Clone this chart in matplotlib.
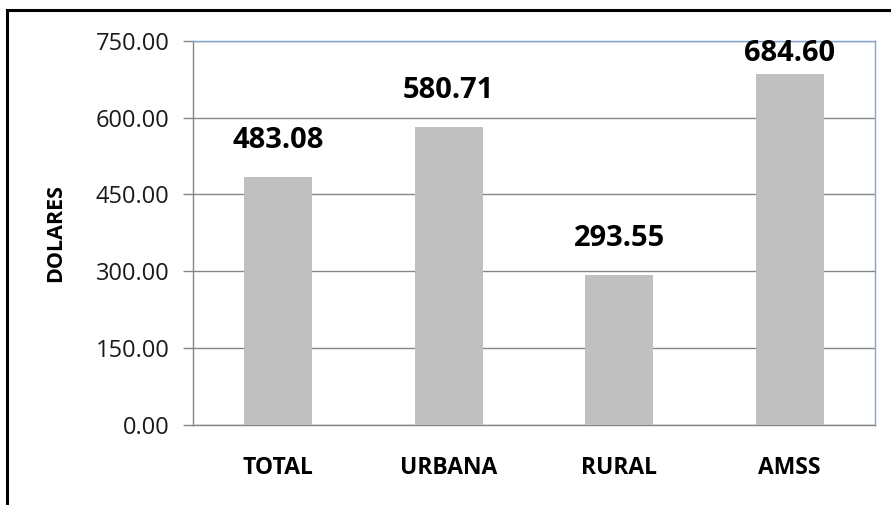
import matplotlib
matplotlib.use("Agg")
import matplotlib.pyplot as plt
from matplotlib.patches import Rectangle

categories = ["TOTAL", "URBANA", "RURAL", "AMSS"]
values = [483.08, 580.71, 293.55, 684.60]
yticks = [0, 150, 300, 450, 600, 750]
ylabel = "DOLARES"

plt.rcParams['font.family'] = ['Open Sans', 'DejaVu Sans']

W, H = 891, 505
fig = plt.figure(figsize=(W / 100, H / 100), dpi=100)
ax = fig.add_axes([193 / W, 1 - 425 / H, (875 - 193) / W, (425 - 40.7) / H])

x = list(range(len(categories)))
ax.bar(x, values, width=0.40, color="#C0C0C0", zorder=3)
ax.set_xlim(-0.5, len(categories) - 0.5)
ax.set_ylim(0, 750)
ax.set_yticks(yticks)
ax.set_yticklabels([f"{v:.2f}" for v in yticks], fontsize=17, color="#1a1a1a")
ax.set_xticks(x)
ax.set_xticklabels(categories, fontsize=16.5, fontweight="bold")
ax.tick_params(axis="x", length=0, pad=22)
ax.tick_params(axis="y", length=7, width=1, color="#868686", pad=10, direction="out")
ax.yaxis.grid(True, color="#868686", linewidth=1.0, zorder=0)
ax.set_axisbelow(True)

for s in ("left", "bottom"):
    ax.spines[s].set_color("#868686")
    ax.spines[s].set_linewidth(1.0)
for s in ("top", "right"):
    ax.spines[s].set_color("#7FA3D6")
    ax.spines[s].set_linewidth(1.0)

ax.set_ylabel(ylabel, fontsize=15.5, fontweight="bold")
ax.yaxis.set_label_coords(-0.186, 0.5)

# data labels above bars
px_per_unit = (425 - 40.7) / 750.0
gap_px = 29
text_px = 22
for xi, v in zip(x, values):
    top_units = v + (gap_px + text_px) / px_per_unit
    if top_units > 750:
        ax.annotate(f"{v:.2f}", xy=(xi, 750), xytext=(0, 2), textcoords="offset pixels",
                    ha="center", va="top", fontsize=21, fontweight="bold", zorder=5,
                    annotation_clip=False)
    else:
        ax.annotate(f"{v:.2f}", xy=(xi, v), xytext=(0, gap_px), textcoords="offset pixels",
                    ha="center", va="baseline", fontsize=21, fontweight="bold", zorder=5)

# outer chart frame (extends beyond image right/bottom)
fig.patches.append(Rectangle((7 / W, -0.05), 1.1, 1 - 10 / H + 0.05, transform=fig.transFigure,
                             fill=False, edgecolor="black", linewidth=2.2, zorder=10))

fig.savefig("out.png", dpi=100)
